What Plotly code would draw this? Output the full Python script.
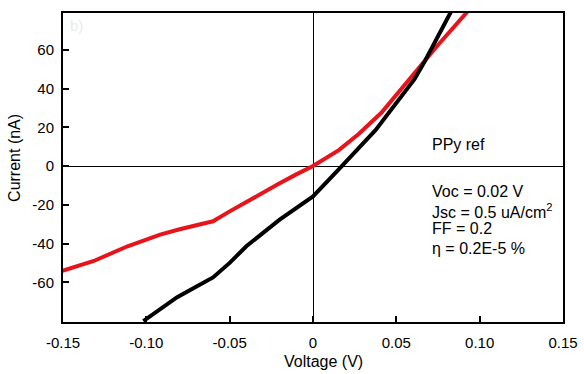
import plotly.graph_objects as go

# I-V sweep of the PPy reference cell, two scans
red_v = [-0.151, -0.1315, -0.1113, -0.0917, -0.080, -0.0696, -0.060, -0.050,
         -0.035, -0.020, -0.010, 0.0, 0.0155, 0.0214, 0.0274, 0.041, 0.061,
         0.075, 0.093]
red_i = [-54.2, -49.0, -41.4, -35.4, -32.6, -30.3, -28.5, -23.4,
         -16.0, -8.9, -4.3, 0.0, 8.2, 12.0, 16.5, 27.5, 48.5,
         62.5, 80.0]

black_v = [-0.1018, -0.0917, -0.0815, -0.0696, -0.060, -0.050, -0.040,
           -0.020, 0.0, 0.0173, 0.0375, 0.061, 0.067, 0.083]
black_i = [-80.0, -74.0, -67.7, -62.0, -57.5, -50.0, -41.4,
           -27.7, -15.7, 0.0, 18.5, 45.0, 54.0, 80.0]

x_ticks = [-0.15, -0.10, -0.05, 0.0, 0.05, 0.10, 0.15]
x_tick_text = ["-0.15", "-0.10", "-0.05", "0", "0.05", "0.10", "0.15"]
y_ticks = [-60, -40, -20, 0, 20, 40, 60]
y_tick_text = ["-60", "-40", "-20", "0", "20", "40", "60"]

info_lines = ["Voc = 0.02 V", "Jsc = 0.5 uA/cm<sup>2</sup>", "FF = 0.2",
              "\u03b7 = 0.2E-5 %"]

FONT = "Liberation Sans, Arial"

fig = go.Figure()
fig.add_trace(go.Scatter(x=red_v, y=red_i, mode="lines",
                         line=dict(color="#e8141c", width=4), showlegend=False))
fig.add_trace(go.Scatter(x=black_v, y=black_i, mode="lines",
                         line=dict(color="#000000", width=4), showlegend=False))

axis_common = dict(showline=True, linecolor="black", linewidth=2, mirror=True,
                   ticks="inside", ticklen=6, tickwidth=2, tickcolor="black",
                   showgrid=False, zeroline=True, zerolinecolor="black",
                   zerolinewidth=1, automargin=False,
                   tickfont=dict(family=FONT, size=15, color="black"))

fig.update_xaxes(range=[-0.15, 0.15], tickvals=x_ticks, ticktext=x_tick_text,
                 ticklabelstandoff=6, **axis_common)
fig.update_yaxes(range=[-80.5, 79], tickvals=y_ticks, ticktext=y_tick_text,
                 ticklabelstandoff=4, **axis_common)

annotations = [
    dict(text="Voltage (V)", x=0.52, y=-0.129, xanchor="center",
         yanchor="middle", font=dict(size=16)),
    dict(text="Current (nA)", x=-0.096, y=0.531, xanchor="center",
         yanchor="middle", textangle=-90, font=dict(size=16)),
    dict(text="b)", x=0.01, y=0.961, xanchor="left", yanchor="middle",
         font=dict(size=15, color="#e6ecef")),
    dict(text="PPy ref", x=0.734, y=0.573, xanchor="left", yanchor="middle",
         font=dict(size=16)),
]
info_y = [0.422, 0.360, 0.304, 0.239]
for txt, yy in zip(info_lines, info_y):
    annotations.append(dict(text=txt, x=0.734, y=yy, xanchor="left",
                            yanchor="middle", font=dict(size=16)))
for a in annotations:
    a.update(xref="paper", yref="paper", showarrow=False)
    a["font"].setdefault("color", "black")
    a["font"]["family"] = FONT

fig.update_layout(width=584, height=374, margin=dict(l=63, r=21, t=13, b=52),
                  plot_bgcolor="white", paper_bgcolor="white",
                  annotations=annotations)

fig.write_html("out.html")
